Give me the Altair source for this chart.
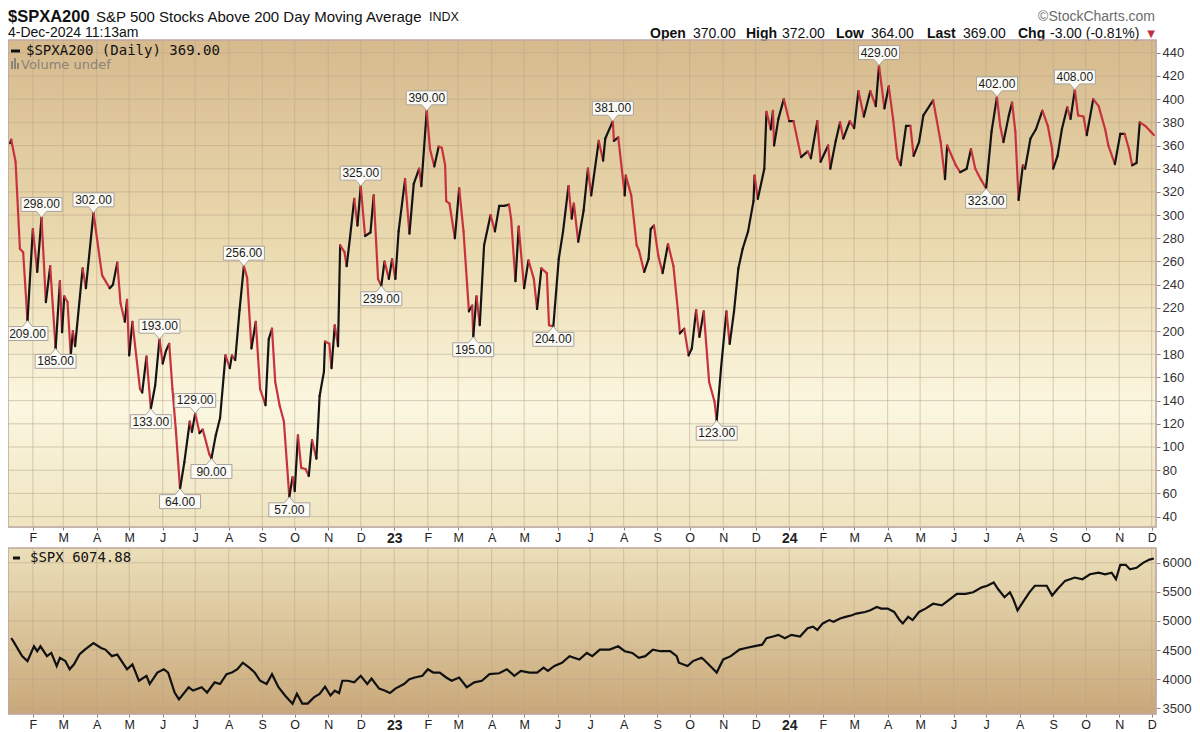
import altair as alt
import pandas as pd
import numpy as np

# ---------------- data ----------------
# $SPXA200: day offset from 2022-01-01 and value
spxa_day = [10, 11, 15, 19, 22, 26, 31, 35, 39, 43,
            47, 52, 56, 58, 60, 63, 66, 68, 70, 77,
            80, 87, 93, 95, 102, 105, 109, 112, 116, 118,
            120, 123, 130, 132, 136, 140, 144, 148, 151, 154,
            157, 160, 163, 167, 171, 176, 178, 181, 185, 188,
            194, 196, 200, 204, 209, 213, 215, 218, 222, 226,
            229, 233, 237, 241, 246, 249, 252, 255, 259, 263,
            268, 271, 273, 276, 279, 283, 286, 289, 293, 296,
            300, 301, 305, 307, 310, 313, 315, 319, 321, 324,
            328, 331, 334, 338, 343, 346, 350, 353, 356, 360,
            363, 366, 369, 375, 379, 383, 388, 390, 395, 398,
            402, 406, 409, 412, 413, 416, 421, 425, 429, 434,
            437, 438, 441, 444, 448, 454, 458, 462, 467, 471,
            473, 477, 480, 485, 489, 494, 497, 501, 506, 508,
            512, 517, 521, 526, 529, 531, 535, 540, 544, 547,
            554, 558, 560, 567, 568, 572, 578, 579, 584, 589,
            591, 596, 600, 602, 605, 609, 613, 614, 618, 623,
            627, 629, 633, 637, 640, 644, 647, 651, 656, 661,
            663, 667, 672, 675, 679, 683, 687, 692, 697, 698,
            701, 707, 709, 713, 715, 716, 720, 725, 730, 734,
            741, 747, 750, 756, 759, 766, 768, 773, 777, 780,
            786, 790, 794, 799, 805, 810, 813, 818, 822, 826,
            830, 833, 838, 842, 845, 850, 854, 863, 870, 874,
            876, 884, 888, 894, 898, 902, 907, 912, 917, 922,
            925, 928, 933, 936, 939, 942, 946, 948, 953, 958,
            964, 969, 973, 974, 978, 982, 987, 990, 994, 997,
            1002, 1005, 1011, 1016, 1022, 1025, 1031, 1036, 1040, 1044,
            1047, 1051, 1054, 1059, 1064, 1067]
spxa_val = [362, 365, 346, 271, 268, 209, 288, 251, 298, 225,
            256, 185, 243, 199, 230, 225, 179, 200, 187, 254,
            237, 302, 261, 248, 237, 240, 259, 224, 208, 227,
            179, 208, 150, 147, 178, 133, 153, 193, 172, 183,
            189, 150, 116, 64, 87, 122, 113, 129, 112, 115,
            94, 90, 110, 125, 179, 168, 179, 175, 218, 256,
            246, 185, 208, 150, 136, 193, 202, 156, 136, 122,
            57, 74, 62, 110, 82, 81, 75, 106, 90, 144,
            165, 191, 189, 168, 205, 187, 274, 268, 256, 280,
            314, 291, 325, 282, 285, 317, 245, 239, 260, 245,
            262, 245, 286, 331, 284, 327, 340, 325, 390, 357,
            342, 359, 358, 343, 312, 310, 280, 323, 286, 217,
            222, 195, 230, 205, 274, 300, 286, 308, 308, 309,
            297, 243, 290, 237, 261, 245, 219, 254, 250, 205,
            204, 262, 286, 325, 297, 310, 277, 304, 340, 317,
            364, 347, 366, 381, 364, 367, 317, 334, 317, 274,
            270, 251, 262, 288, 291, 265, 250, 255, 275, 256,
            219, 198, 202, 179, 185, 218, 195, 217, 156, 139,
            123, 168, 217, 189, 217, 254, 271, 286, 312, 334,
            314, 340, 389, 374, 390, 360, 383, 400, 381, 381,
            350, 355, 349, 381, 346, 360, 340, 364, 380, 366,
            381, 375, 407, 385, 407, 394, 429, 392, 411, 383,
            349, 343, 377, 377, 351, 363, 386, 399, 363, 331,
            360, 343, 337, 340, 357, 340, 331, 323, 372, 402,
            377, 363, 386, 397, 372, 313, 343, 340, 366, 374,
            390, 377, 357, 340, 351, 374, 393, 383, 408, 386,
            385, 369, 400, 394, 374, 360, 344, 370, 370, 357,
            343, 345, 380, 377, 372, 369]

# annotated peaks (box above) and troughs (box below)
peak_day = [39, 87, 148, 181, 226, 334, 395, 567, 813, 922, 994]
peak_val = [298, 302, 193, 129, 256, 325, 390, 381, 429, 402, 408]
trough_day = [26, 52, 140, 167, 196, 268, 353, 438, 512, 663, 912]
trough_val = [209, 185, 133, 64, 90, 57, 239, 195, 204, 123, 323]

# $SPX lower panel
spx_day = [11, 13, 21, 26, 32, 35, 38, 44, 48, 53,
           56, 61, 65, 69, 74, 79, 87, 94, 98, 104,
           109, 115, 118, 123, 129, 136, 139, 146, 152, 156,
           162, 166, 175, 179, 187, 192, 199, 204, 210, 215,
           220, 225, 231, 236, 241, 247, 252, 258, 264, 271,
           275, 280, 285, 291, 296, 301, 306, 310, 314, 317,
           322, 328, 334, 340, 344, 351, 356, 361, 366, 374,
           379, 384, 391, 396, 401, 407, 413, 418, 425, 432,
           439, 446, 453, 462, 469, 476, 482, 490, 497, 503,
           507, 513, 520, 527, 536, 543, 548, 555, 564, 572,
           578, 585, 591, 597, 604, 611, 620, 626, 628, 636,
           641, 649, 651, 657, 663, 669, 676, 684, 690, 697,
           705, 709, 715, 720, 726, 732, 740, 747, 752, 756,
           761, 767, 771, 777, 782, 788, 792, 800, 805, 811,
           815, 821, 827, 832, 835, 840, 844, 850, 856, 863,
           871, 875, 885, 893, 900, 908, 913, 919, 923, 929,
           934, 937, 941, 946, 952, 957, 962, 968, 973, 978,
           985, 994, 1001, 1008, 1016, 1022, 1028, 1032, 1036, 1041,
           1045, 1051, 1057, 1063, 1067]
spx_val = [4704, 4648, 4395, 4310, 4564, 4480, 4564, 4395, 4450, 4226,
           4366, 4310, 4170, 4254, 4423, 4508, 4620, 4536, 4508, 4395,
           4423, 4254, 4170, 4254, 3972, 4057, 3916, 4113, 4170, 4113,
           3770, 3651, 3860, 3804, 3860, 3770, 3944, 3916, 4085, 4113,
           4170, 4282, 4198, 4113, 3972, 3916, 4085, 3860, 3719, 3578,
           3749, 3578, 3578, 3690, 3747, 3871, 3719, 3800, 3760, 3972,
           3972, 3944, 4057, 3916, 4010, 3837, 3804, 3760, 3837, 3916,
           4000, 4028, 4057, 4170, 4113, 4113, 4028, 3972, 4028, 3860,
           3944, 3972, 4085, 4100, 4170, 4057, 4142, 4113, 4113, 4198,
           4142, 4226, 4282, 4395, 4338, 4450, 4395, 4508, 4508, 4564,
           4480, 4450, 4366, 4395, 4508, 4480, 4480, 4395, 4282, 4226,
           4310, 4366, 4338, 4226, 4113, 4338, 4395, 4508, 4536, 4564,
           4592, 4704, 4733, 4761, 4704, 4761, 4733, 4874, 4902, 4845,
           4958, 5015, 4986, 5043, 5071, 5099, 5127, 5155, 5183, 5240,
           5212, 5212, 5155, 5015, 4958, 5071, 5015, 5155, 5212, 5296,
           5268, 5325, 5465, 5465, 5493, 5578, 5606, 5662, 5550, 5408,
           5493, 5380, 5183, 5325, 5493, 5606, 5606, 5606, 5437, 5550,
           5690, 5747, 5718, 5803, 5831, 5803, 5831, 5718, 5966, 5966,
           5887, 5915, 6000, 6056, 6075]

top_ticks = list(range(40, 441, 20))
bottom_ticks = [3500, 4000, 4500, 5000, 5500, 6000]

# ---------------- helpers ----------------
BASE = pd.Timestamp("2022-01-01")


def to_dates(days):
    return [BASE + pd.Timedelta(days=int(d)) for d in days]


W = 1148
H1 = 487
H2 = 166

FONT = "Liberation Sans"
MONO = "DejaVu Sans Mono"

xscale = alt.Scale(domain=[alt.DateTime(year=2022, month=1, date=9),
                           alt.DateTime(year=2024, month=12, date=5)])
yscale_top = alt.Scale(domain=[31, 451], nice=False, zero=False)
yscale_bot = alt.Scale(domain=[3400, 6255], nice=False, zero=False)

month_starts = pd.date_range("2022-02-01", "2024-12-01", freq="MS")
month_vals = [alt.DateTime(year=int(d.year), month=int(d.month), date=1) for d in month_starts]
months_df = pd.DataFrame({"date": month_starts})

is_year = "month(datum.value) == 0"
XAXIS = alt.Axis(
    values=month_vals,
    labelExpr=is_year + " ? timeFormat(datum.value, '%y') : slice(timeFormat(datum.value, '%b'), 0, 1)",
    grid=False, domain=False, tickSize=3, tickColor="#8f8378", tickWidth=1,
    labelPadding=1, labelColor="#222222", labelFont=FONT,
    labelFontSize={"condition": {"test": is_year, "value": 14}, "value": 12.5},
    labelFontWeight={"condition": {"test": is_year, "value": "bold"}, "value": "normal"},
    labelFlush=False, labelOverlap=False, labelBound=False, title=None,
)


def yaxis(vals):
    return alt.Axis(orient="right", values=vals, grid=False, domain=False, format="d",
                    tickSize=4, tickColor="#8f8378", labelPadding=2,
                    labelFontSize=13, labelColor="#333333", labelFont=FONT,
                    title=None, labelFlush=False, labelOverlap=False)


YAXIS_TOP = yaxis(top_ticks)
YAXIS_BOT = yaxis(bottom_ticks)

one = pd.DataFrame({"a": [0]})


def txt(x, y, s, size=14, weight="normal", color="#111111", align="left", font=FONT, baseline="middle"):
    return alt.Chart(one).mark_text(
        text=s, fontSize=size, fontWeight=weight, color=color, align=align,
        baseline=baseline, font=font
    ).encode(x=alt.value(x), y=alt.value(y))


def bar(x1, x2, y1, y2, color="#111111", width=3):
    return alt.Chart(one).mark_rule(color=color, strokeWidth=width).encode(
        x=alt.value(x1), x2=alt.value(x2), y=alt.value(y1), y2=alt.value(y2))


def background(stops):
    grad = alt.LinearGradient(
        gradient="linear",
        stops=[alt.GradientStop(color=c, offset=o) for o, c in stops],
        x1=0, x2=0, y1=0, y2=1)
    return alt.Chart(one).mark_rect(fill=grad).encode(
        x=alt.value(0), x2=alt.value("width"), y=alt.value(0), y2=alt.value("height"))


def border():
    return alt.Chart(one).mark_rect(fillOpacity=0, stroke="#bea6a2", strokeWidth=1.5).encode(
        x=alt.value(0), x2=alt.value("width"), y=alt.value(0), y2=alt.value("height"))


def vgrid():
    return alt.Chart(months_df).mark_rule(color="#b9a58a", strokeWidth=1, opacity=0.55).encode(
        x=alt.X("date:T", scale=xscale, axis=XAXIS))


def hgrid(vals, yscale, yax):
    return alt.Chart(pd.DataFrame({"val": vals})).mark_rule(
        color="#b9a58a", strokeWidth=1, opacity=0.55).encode(
        y=alt.Y("val:Q", scale=yscale, axis=yax))


# ---------------- top panel ----------------
top_df = pd.DataFrame({"date": to_dates(spxa_day), "val": spxa_val})
seg = pd.DataFrame({
    "date": top_df["date"].iloc[:-1].values,
    "val": top_df["val"].iloc[:-1].values,
    "date2": top_df["date"].iloc[1:].values,
    "val2": top_df["val"].iloc[1:].values,
})
seg["dir"] = np.where(seg["val2"] >= seg["val"], "up", "down")

line_top = alt.Chart(seg).mark_rule(strokeWidth=2.2, strokeCap="round").encode(
    x=alt.X("date:T", scale=xscale, axis=XAXIS),
    x2="date2:T",
    y=alt.Y("val:Q", scale=yscale_top, axis=YAXIS_TOP),
    y2="val2:Q",
    color=alt.Color("dir:N", scale=alt.Scale(domain=["up", "down"], range=["#141414", "#c8323f"]),
                    legend=None),
)

S = 20.5
PEAK = "M0,0 L-0.24,-0.29 L-1,-0.29 L-1,-0.97 L1,-0.97 L1,-0.29 L0.24,-0.29 Z"
TROUGH = "M0,0 L-0.24,0.29 L-1,0.29 L-1,0.97 L1,0.97 L1,0.29 L0.24,0.29 Z"
SIZE = (2 * S) ** 2

peaks = pd.DataFrame({"date": to_dates(peak_day), "val": peak_val})
peaks["lab"] = [f"{v:.2f}" for v in peak_val]
troughs = pd.DataFrame({"date": to_dates(trough_day), "val": trough_val})
troughs["lab"] = [f"{v:.2f}" for v in trough_val]


def annot(df, shape, dy):
    enc = dict(x=alt.X("date:T", scale=xscale, axis=XAXIS),
               y=alt.Y("val:Q", scale=yscale_top, axis=YAXIS_TOP))
    box = alt.Chart(df).mark_point(shape=shape, size=SIZE, filled=True, fill="#fbfaf5",
                                   stroke="#a9a39b", strokeWidth=1, opacity=1,
                                   fillOpacity=1).encode(**enc)
    lab = alt.Chart(df).mark_text(dy=dy, fontSize=12, font=FONT, color="#1a1a1a").encode(
        text="lab:N", **enc)
    return [box, lab]


top_layers = [
    background([(0, "#d6ba8d"), (0.45, "#ecdcb2"), (0.75, "#fbf7e0"), (1, "#eee4bf")]),
    vgrid(),
    hgrid(top_ticks, yscale_top, YAXIS_TOP),
    line_top,
    *annot(peaks, PEAK, -13),
    *annot(troughs, TROUGH, 13),
    # in-panel legend
    bar(3, 12, 11, 11),
    txt(18, 11, "$SPXA200 (Daily) 369.00", size=14, font=MONO, color="#111111"),
    bar(4, 4, 21, 29, color="#8c8278", width=2),
    bar(7, 7, 18, 29, color="#8c8278", width=2),
    bar(10, 10, 23, 29, color="#8c8278", width=2),
    txt(13, 25, "Volume undef", size=13, font="DejaVu Sans", color="#8c8278"),
    # header
    txt(0, -31, "$SPXA200", size=16.5, weight="bold", baseline="top"),
    txt(88, -23.5, "S&P 500 Stocks Above 200 Day Moving Average", size=15),
    txt(421, -23.5, "INDX", size=12.5),
    txt(0, -7, "4-Dec-2024 11:13am", size=14),
    txt(1147, -23, "\u00a9StockCharts.com", size=14, color="#6b6b6b", align="right"),
    txt(642, -6, "Open", weight="bold"),
    txt(685, -6, "370.00"),
    txt(738, -6, "High", weight="bold"),
    txt(774, -6, "372.00"),
    txt(828, -6, "Low", weight="bold"),
    txt(863, -6, "364.00"),
    txt(919, -6, "Last", weight="bold"),
    txt(955, -6, "369.00"),
    txt(1010, -6, "Chg", weight="bold"),
    txt(1042, -6, "-3.00 (-0.81%)"),
    txt(1143, -6, "\u25bc", size=10, color="#c0304a", align="center", font="DejaVu Sans"),
    border(),
]
top = alt.layer(*top_layers).properties(width=W, height=H1)

# ---------------- bottom panel ----------------
spx_df = pd.DataFrame({"date": to_dates(spx_day), "val": spx_val})
line_bot = alt.Chart(spx_df).mark_line(color="#111111", strokeWidth=2.2).encode(
    x=alt.X("date:T", scale=xscale, axis=XAXIS),
    y=alt.Y("val:Q", scale=yscale_bot, axis=YAXIS_BOT),
)

bot_layers = [
    background([(0, "#ebdfb9"), (1, "#c9a87a")]),
    vgrid(),
    hgrid(bottom_ticks, yscale_bot, YAXIS_BOT),
    line_bot,
    bar(5, 12, 10, 10),
    txt(22, 10, "$SPX 6074.88", size=14, font=MONO, color="#111111"),
    border(),
]
bottom = alt.layer(*bot_layers).properties(width=W, height=H2)

chart = alt.vconcat(top, bottom, spacing=0).properties(
    padding={"left": -4, "top": 0, "right": 0, "bottom": 0}
).configure_view(strokeWidth=0).configure(background="white")

chart.save("out.html", embed_options={"renderer": "svg", "actions": False})
